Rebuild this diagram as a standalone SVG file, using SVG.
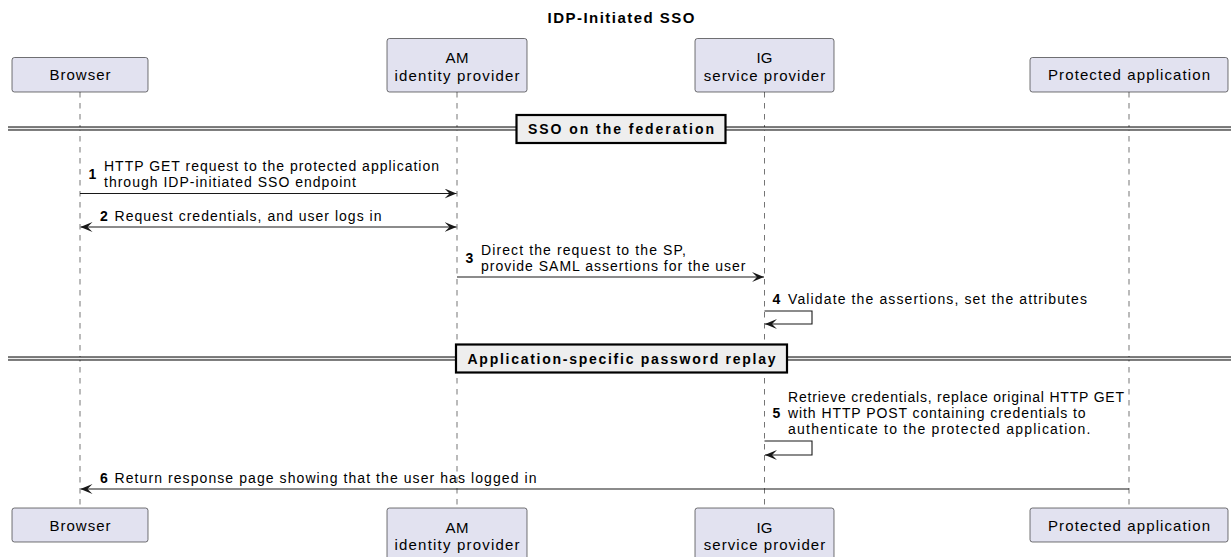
<svg xmlns="http://www.w3.org/2000/svg" width="1231" height="557" viewBox="0 0 1231 557">
<style>
text{font-family:"Liberation Sans",Arial,sans-serif;fill:#000}
.title{font-size:15px;font-weight:bold}
.pbox{fill:#E2E2F0;stroke:#181818;stroke-width:0.6}
.pt{font-size:15px}
.life{stroke:#181818;stroke-width:0.6;stroke-dasharray:5.5,5.5}
.msg{stroke:#181818;stroke-width:1.1;fill:none;marker-end:url(#ah)}
.mt{font-size:14px}
.num{font-size:14px;font-weight:bold}
.dl{stroke:#000;stroke-width:1.1}
.dband{fill:#EEEEEE}
.dbox{fill:#EEEEEE;stroke:#000;stroke-width:2.2}
.dt{font-size:14px;font-weight:bold}
</style>
<defs>
<marker id="ah" viewBox="0 0 12 10" refX="12" refY="5" markerWidth="12" markerHeight="10" markerUnits="userSpaceOnUse" orient="auto-start-reverse">
<path d="M0,0 L12,5 L0,10 L5,5 Z" fill="#181818"/>
</marker>
</defs>
<rect width="1231" height="557" fill="#FFFFFF"/>
<text class="title" x="621" y="22.5" text-anchor="middle" textLength="147" lengthAdjust="spacing">IDP-Initiated SSO</text>

<g id="lifelines">
<line class="life" x1="80" y1="92" x2="80" y2="508"/>
<line class="life" x1="457" y1="92" x2="457" y2="508"/>
<line class="life" x1="764.5" y1="92" x2="764.5" y2="508"/>
<line class="life" x1="1129" y1="92" x2="1129" y2="508"/>
</g>

<g id="browser">
<rect class="pbox" x="12" y="57.5" width="136" height="34.5" rx="2.5"/>
<text class="pt" x="80" y="80" text-anchor="middle" textLength="61" lengthAdjust="spacing">Browser</text>
<rect class="pbox" x="12" y="508" width="136" height="34" rx="2.5"/>
<text class="pt" x="80" y="531" text-anchor="middle" textLength="61" lengthAdjust="spacing">Browser</text>
</g>
<g id="am">
<rect class="pbox" x="387" y="38.5" width="140" height="53.5" rx="2.5"/>
<text class="pt" x="457" y="63" text-anchor="middle" textLength="23" lengthAdjust="spacing">AM</text>
<text class="pt" x="457" y="80.5" text-anchor="middle" textLength="125" lengthAdjust="spacing">identity provider</text>
<rect class="pbox" x="387" y="508" width="140" height="53.5" rx="2.5"/>
<text class="pt" x="457" y="532.5" text-anchor="middle" textLength="23" lengthAdjust="spacing">AM</text>
<text class="pt" x="457" y="550" text-anchor="middle" textLength="125" lengthAdjust="spacing">identity provider</text>
</g>
<g id="ig">
<rect class="pbox" x="695" y="38.5" width="139" height="53.5" rx="2.5"/>
<text class="pt" x="764.5" y="63" text-anchor="middle" textLength="16" lengthAdjust="spacing">IG</text>
<text class="pt" x="764.5" y="80.5" text-anchor="middle" textLength="121.5" lengthAdjust="spacing">service provider</text>
<rect class="pbox" x="695" y="508" width="139" height="53.5" rx="2.5"/>
<text class="pt" x="764.5" y="532.5" text-anchor="middle" textLength="16" lengthAdjust="spacing">IG</text>
<text class="pt" x="764.5" y="550" text-anchor="middle" textLength="121.5" lengthAdjust="spacing">service provider</text>
</g>
<g id="protected-app">
<rect class="pbox" x="1030" y="57.5" width="198" height="34.5" rx="2.5"/>
<text class="pt" x="1129" y="80" text-anchor="middle" textLength="162" lengthAdjust="spacing">Protected application</text>
<rect class="pbox" x="1030" y="508" width="198" height="34" rx="2.5"/>
<text class="pt" x="1129" y="531" text-anchor="middle" textLength="162" lengthAdjust="spacing">Protected application</text>
</g>

<g id="divider-sso">
<rect class="dband" x="8" y="127" width="1223" height="3"/>
<line class="dl" x1="8" y1="127" x2="1231" y2="127"/>
<line class="dl" x1="8" y1="130" x2="1231" y2="130"/>
<rect class="dbox" x="516.5" y="115" width="209" height="28"/>
<text class="dt" x="621" y="134" text-anchor="middle" textLength="186" lengthAdjust="spacing">SSO on the federation</text>
</g>
<g id="divider-replay">
<rect class="dband" x="8" y="357" width="1223" height="3"/>
<line class="dl" x1="8" y1="357" x2="1231" y2="357"/>
<line class="dl" x1="8" y1="360" x2="1231" y2="360"/>
<rect class="dbox" x="456" y="344.5" width="331" height="28"/>
<text class="dt" x="621.5" y="363.5" text-anchor="middle" textLength="308" lengthAdjust="spacing">Application-specific password replay</text>
</g>

<g id="connectors">
<path class="msg" d="M80,193.5 H456.5"/>
<path class="msg" d="M80.5,227 H456.5" style="marker-start:url(#ah)"/>
<path class="msg" d="M457,277 H764"/>
<path class="msg" d="M764.5,311 H812 V324 H765"/>
<path class="msg" d="M764.5,441 H812 V455 H765"/>
<path class="msg" d="M1129,489 H80.5"/>
</g>

<g id="labels">
<text class="num" x="88.5" y="179">1</text>
<text class="mt" x="104" y="171" textLength="335" lengthAdjust="spacing">HTTP GET request to the protected application</text>
<text class="mt" x="104" y="186.5" textLength="252" lengthAdjust="spacing">through IDP-initiated SSO endpoint</text>

<text class="num" x="100" y="221">2</text>
<text class="mt" x="114.5" y="221" textLength="267" lengthAdjust="spacing">Request credentials, and user logs in</text>

<text class="num" x="465.5" y="263">3</text>
<text class="mt" x="481" y="255" textLength="205" lengthAdjust="spacing">Direct the request to the SP,</text>
<text class="mt" x="481" y="270.5" textLength="264.5" lengthAdjust="spacing">provide SAML assertions for the user</text>

<text class="num" x="772.5" y="304">4</text>
<text class="mt" x="788" y="304" textLength="299" lengthAdjust="spacing">Validate the assertions, set the attributes</text>

<text class="num" x="772.5" y="418">5</text>
<text class="mt" x="788" y="402" textLength="336" lengthAdjust="spacing">Retrieve credentials, replace original HTTP GET</text>
<text class="mt" x="788" y="418" textLength="297.5" lengthAdjust="spacing">with HTTP POST containing credentials to</text>
<text class="mt" x="788" y="434" textLength="302.5" lengthAdjust="spacing">authenticate to the protected application.</text>

<text class="num" x="100" y="483">6</text>
<text class="mt" x="114.5" y="483" textLength="422" lengthAdjust="spacing">Return response page showing that the user has logged in</text>
</g>
</svg>
